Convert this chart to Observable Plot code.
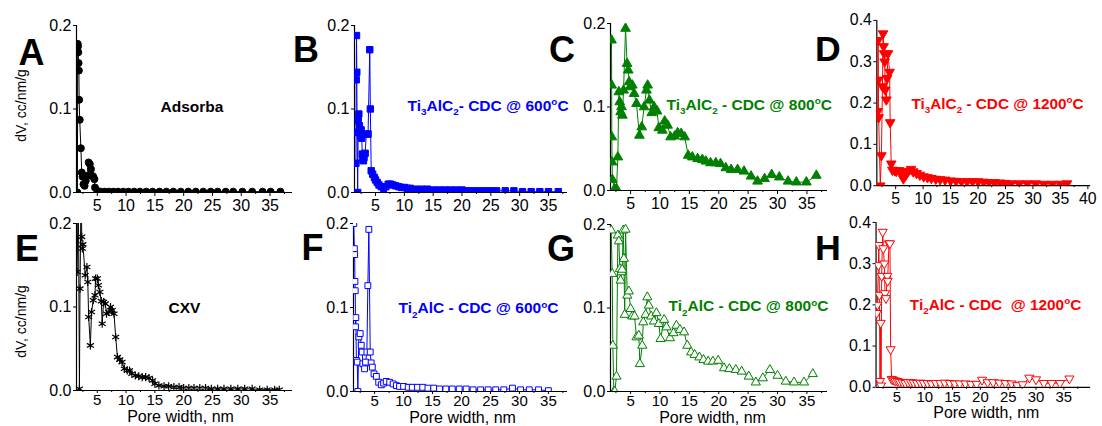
<!DOCTYPE html>
<html><head><meta charset="utf-8">
<script src="https://cdn.jsdelivr.net/npm/d3@7"></script>
<script src="https://cdn.jsdelivr.net/npm/@observablehq/plot@0.6"></script>
<style>
html,body{margin:0;padding:0;background:#fff;overflow:hidden}
#root{position:relative;width:1102px;height:426px;font-family:"Liberation Sans",Arial,sans-serif}
.panel{position:absolute}
.panel svg{overflow:visible;background:none}
</style></head><body><div id="root"></div>
<script>
// ---------- DATA (pore width, nm ; dV, cc/nm/g) ----------
const poreA = [1.55,1.6,1.65,1.7,1.75,1.8,1.85,1.95,2.15,2.3,
  2.45,2.6,2.8,3.0,3.3,3.5,3.7,3.9,4.1,4.3,
  4.5,4.6,5.0,5.6,6.3,7.0,7.8,8.6,9.5,10.4,
  11.4,12.4,13.5,14.6,15.8,17.0,18.2,19.5,20.8,22.1,
  23.4,24.7,25.9,27.3,28.6,30.2,31.9,33.7,35.1,36.8];
const dvA = [0.0,0.178,0.175,0.168,0.155,0.146,0.111,0.087,0.053,0.024,
  0.019,0.010,0.008,0.014,0.020,0.036,0.034,0.028,0.020,0.019,
  0.016,0.006,0.002,0.001,0.001,0.001,0.001,0.001,0.001,0.001,
  0.001,0.001,0.001,0.001,0.001,0.001,0.001,0.001,0.001,0.001,
  0.001,0.001,0.001,0.001,0.001,0.001,0.001,0.001,0.001,0.001];

const poreB = [1.6,1.65,1.7,1.75,1.8,1.9,2.0,2.1,2.2,2.3,
  2.4,2.5,2.6,2.7,2.8,2.9,3.0,3.2,3.4,3.7,
  4.0,4.1,4.25,4.5,4.8,5.0,5.3,5.6,6.0,6.4,
  6.8,7.2,7.6,8.0,8.5,9.0,9.5,10.0,10.5,11.0,
  12.0,13.0,14.0,15.0,16.0,17.0,18.0,19.0,20.0,21.0,
  22.0,23.0,24.0,25.0,26.0,27.5,29.0,30.5,32.0,33.5,
  35.0,36.7];
const dvB = [0.035,0.135,0.188,0.144,0.072,0.0,0.086,0.094,0.080,0.072,
  0.068,0.075,0.065,0.046,0.040,0.038,0.042,0.047,0.070,0.070,
  0.171,0.100,0.026,0.022,0.018,0.015,0.012,0.009,0.007,0.005,
  0.007,0.010,0.010,0.009,0.008,0.007,0.006,0.006,0.005,0.005,
  0.004,0.004,0.004,0.003,0.003,0.003,0.003,0.003,0.003,0.002,
  0.002,0.002,0.002,0.002,0.002,0.002,0.002,0.001,0.001,0.001,
  0.001,0.001];

const poreC = [1.75,1.78,1.8,1.85,1.9,2.27,2.6,2.83,3.0,3.15,
  3.3,3.45,3.6,3.8,4.14,4.4,4.6,4.75,4.9,5.3,
  5.6,6.0,6.5,6.9,7.3,7.7,7.9,8.2,8.6,9.0,
  9.5,9.8,10.4,10.8,11.3,11.8,12.5,13.0,13.6,14.2,
  14.8,15.5,16.4,17.2,17.8,18.6,19.5,20.3,21.2,22.1,
  23.2,24.3,25.5,26.6,27.8,29.0,30.3,31.8,33.2,34.9,
  36.6];
const dvC = [0.180,0.126,0.064,0.034,0.013,0.002,0.002,0.040,0.118,0.106,
  0.094,0.100,0.090,0.120,0.194,0.152,0.144,0.130,0.124,0.126,
  0.116,0.104,0.066,0.076,0.100,0.120,0.126,0.108,0.093,0.100,
  0.095,0.075,0.072,0.083,0.078,0.064,0.065,0.069,0.068,0.064,
  0.042,0.040,0.038,0.037,0.035,0.033,0.033,0.032,0.027,0.025,
  0.025,0.023,0.017,0.011,0.014,0.019,0.016,0.011,0.010,0.010,
  0.018];

const poreD = [1.75,1.8,1.85,1.9,2.2,2.4,2.6,2.7,2.8,2.9,
  3.0,3.1,3.3,3.45,3.6,3.9,4.0,4.2,4.4,4.8,
  5.1,5.6,6.0,6.4,6.8,7.3,7.8,8.2,8.8,9.4,
  10.1,10.8,11.5,12.3,13.1,14.0,15.0,16.0,17.0,18.0,
  19.0,20.0,21.0,22.0,23.0,24.0,25.0,26.0,27.5,29.0,
  30.5,32.0,33.5,35.0,36.2];
const dvD = [0.180,0.352,0.256,0.165,0.0,0.073,0.240,0.368,0.337,0.320,
  0.300,0.232,0.208,0.260,0.320,0.275,0.153,0.053,0.038,0.037,
  0.035,0.037,0.033,0.017,0.025,0.035,0.040,0.034,0.030,0.026,
  0.022,0.020,0.018,0.016,0.015,0.014,0.012,0.011,0.010,0.010,
  0.010,0.010,0.009,0.008,0.008,0.007,0.006,0.005,0.005,0.005,
  0.005,0.004,0.004,0.004,0.005];

const poreE = [1.5,1.7,1.9,2.0,2.2,2.3,2.4,2.5,2.9,3.2,
  3.35,3.5,3.8,4.0,4.3,4.6,4.7,5.0,5.2,5.45,
  5.7,5.85,6.1,6.4,6.6,7.0,7.3,7.6,7.9,8.2,
  8.5,8.9,9.3,9.7,10.2,10.6,11.0,11.6,12.2,12.8,
  13.4,14.0,14.6,15.0,15.7,16.6,17.4,18.3,19.2,20.0,
  20.9,21.8,22.8,23.8,24.8,25.9,27.0,28.2,29.4,30.6,
  31.9,33.2,34.5,35.8,36.6];
const dvE = [0.142,0.25,0.002,0.122,0.25,0.184,0.170,0.175,0.138,0.148,
  0.130,0.088,0.054,0.094,0.108,0.114,0.134,0.134,0.126,0.118,
  0.107,0.080,0.106,0.104,0.092,0.094,0.100,0.096,0.092,0.064,
  0.040,0.037,0.034,0.026,0.024,0.024,0.020,0.018,0.017,0.016,
  0.016,0.015,0.012,0.008,0.006,0.005,0.005,0.004,0.004,0.003,
  0.003,0.003,0.003,0.003,0.002,0.002,0.002,0.002,0.002,0.002,
  0.002,0.001,0.001,0.001,0.001];

const poreF = [1.4,1.5,1.55,1.6,1.65,1.7,1.75,1.85,2.0,2.1,
  2.27,2.5,2.68,2.85,2.97,3.26,3.43,3.66,3.83,4.0,
  4.24,4.4,4.6,4.9,5.3,5.7,6.15,6.55,7.0,7.6,
  8.2,8.75,9.3,10.0,10.8,11.5,12.4,13.3,14.2,15.2,
  16.2,17.3,18.4,19.6,20.8,22.0,23.3,24.6,25.9,27.3,
  28.8,30.2,31.7,33.3,35.0];
const dvF = [0.20,0.170,0.163,0.131,0.120,0.077,0.088,0.037,0.035,0.0,
  0.065,0.069,0.055,0.047,0.033,0.027,0.035,0.047,0.126,0.193,
  0.047,0.034,0.029,0.021,0.018,0.011,0.008,0.010,0.012,0.011,
  0.009,0.007,0.006,0.006,0.005,0.005,0.005,0.005,0.004,0.004,
  0.003,0.003,0.003,0.003,0.003,0.002,0.002,0.002,0.002,0.002,
  0.004,0.002,0.002,0.002,0.001];

const poreG = [1.7,1.87,1.98,2.15,2.3,2.6,2.83,3.0,3.17,3.29,
  3.46,3.57,3.74,3.86,4.0,4.14,4.43,4.7,5.0,5.28,
  5.67,6.0,6.4,6.58,6.98,7.15,7.55,7.84,8.1,8.5,
  8.96,9.4,9.8,10.1,10.7,11.1,11.7,12.3,12.8,13.4,
  14.1,14.65,15.3,15.9,16.7,17.4,18.2,19.0,19.9,20.9,
  21.8,22.9,23.9,25.1,26.3,27.5,28.7,30.0,31.4,32.8,
  34.5,36.0];
const dvG = [0.193,0.141,0.055,0.0,0.0,0.018,0.187,0.180,0.147,0.133,
  0.143,0.146,0.193,0.159,0.092,0.194,0.115,0.120,0.099,0.090,
  0.090,0.065,0.067,0.033,0.055,0.083,0.092,0.113,0.103,0.090,
  0.084,0.094,0.081,0.063,0.086,0.077,0.064,0.070,0.079,0.074,
  0.071,0.055,0.047,0.044,0.041,0.038,0.036,0.036,0.037,0.028,
  0.027,0.026,0.024,0.018,0.011,0.016,0.026,0.019,0.012,0.011,
  0.011,0.021];

const poreH = [1.37,1.49,1.67,1.75,1.85,1.96,2.08,2.14,2.26,2.44,
  2.56,2.74,2.86,3.04,3.27,3.33,3.57,3.75,3.87,4.05,
  4.35,4.7,5.1,5.5,6.0,6.5,7.0,7.5,8.0,8.6,
  9.2,9.8,10.5,11.2,12.0,12.8,13.6,14.5,15.4,16.3,
  17.3,18.3,19.3,20.3,21.3,22.3,23.4,24.5,25.6,26.6,
  27.6,28.8,30.0,31.4,32.8,34.3,36.0];
const dvH = [0.180,0.200,0.296,0.345,0.224,0.015,0.156,0.004,0.270,0.377,
  0.337,0.300,0.228,0.216,0.270,0.258,0.349,0.349,0.092,0.020,
  0.018,0.016,0.015,0.013,0.012,0.010,0.012,0.012,0.011,0.010,
  0.011,0.010,0.010,0.009,0.010,0.010,0.011,0.010,0.009,0.009,
  0.009,0.008,0.008,0.018,0.012,0.012,0.011,0.010,0.009,0.005,
  0.007,0.023,0.019,0.010,0.010,0.010,0.021];

const letters = ["A","B","C","D","E","F","G","H"];
const notes = ["Adsorba","Ti_3AlC_2- CDC @ 600^oC","Ti_3AlC_2 - CDC @ 800^oC","Ti_3AlC_2 - CDC @ 1200^oC",
               "CXV","Ti_2AlC - CDC @ 600^oC","Ti_2AlC - CDC @ 800^oC","Ti_2AlC - CDC  @ 1200^oC"];
const yLabel = "dV, cc/nm/g";
const xLabel = "Pore width, nm";
const yTicksLow = [0, 0.1, 0.2];
const yTicksHigh = [0, 0.1, 0.2, 0.3, 0.4];
const xTicks35 = [5,10,15,20,25,30,35];
const xTicks40 = [5,10,15,20,25,30,35,40];

// ---------- rendering ----------
const sqrt3 = Math.sqrt(3);
const triangleDown = {draw(ctx, size) {
  const y = -Math.sqrt(size / (sqrt3 * 3));
  ctx.moveTo(0, -y * 2); ctx.lineTo(-sqrt3 * y, y); ctx.lineTo(sqrt3 * y, y); ctx.closePath();
}};
const BLUE = "#0000ff", GREEN = "#008000", RED = "#ff0000", BLACK = "#000000";

const panels = [
  {pore: poreA, dv: dvA, frame: [76,292,25,192], xd: [1.39,38.9], yt: yTicksLow, xt: xTicks35, color: BLACK, symbol: "circle", r: 3.5, filled: true,
   L: [-58,28], N: [84,82], noteColor: BLACK, ylab: [-55,-3.5], top: true},
  {pore: poreB, dv: dvB, frame: [354,567,25,192], xd: [1.35,38.3], yt: yTicksLow, xt: xTicks35, color: BLUE, symbol: "square", r: 3.6, filled: true,
   L: [-61.5,25], N: [53,80.5], noteColor: BLUE, top: true},
  {pore: poreC, dv: dvC, frame: [610,827,23,190], xd: [1.58,38.5], yt: yTicksLow, xt: xTicks35, color: GREEN, symbol: "triangle", r: 3.6, filled: true,
   L: [-61.5,27], N: [56,81.5], noteColor: GREEN, top: true},
  {pore: poreD, dv: dvD, frame: [877,1093,20,187], xd: [1.57,40.5], yt: yTicksHigh, xt: xTicks40, color: RED, symbol: triangleDown, r: 3.6, filled: true,
   L: [-62.5,30], N: [35,84.5], noteColor: RED, top: true},
  {pore: poreE, dv: dvE, frame: [76,292,223,390], xd: [1.39,38.9], yt: yTicksLow, xt: xTicks35, color: BLACK, symbol: "asterisk", r: 3.8, filled: false, star: true,
   L: [-61.5,26], N: [92,85], noteColor: BLACK, ylab: [-55,14.5], xlab: -4, top: false},
  {pore: poreF, dv: dvF, frame: [353,567,223,391], xd: [1.35,38.3], yt: yTicksLow, xt: xTicks35, color: BLUE, symbol: "square", r: 3.3, filled: false,
   L: [-52,25], N: [45,85], noteColor: BLUE, xlab: 2, top: false},
  {pore: poreG, dv: dvG, frame: [610,827,224,391], xd: [1.58,38.5], yt: yTicksLow, xt: xTicks35, color: GREEN, symbol: "triangle", r: 3.4, filled: false,
   L: [-63.5,25], N: [58,82], noteColor: GREEN, xlab: -6.5, top: false},
  {pore: poreH, dv: dvH, frame: [876,1092,222,388], xd: [1.25,39.8], yt: yTicksHigh, xt: xTicks35, color: RED, symbol: triangleDown, r: 3.4, filled: false,
   L: [-61.5,26], N: [34,83], noteColor: RED, xlab: 3, top: false}
];

function richify(svg) {
  const ns = "http://www.w3.org/2000/svg";
  svg.querySelectorAll("text").forEach(t => {
    const s = t.textContent;
    if (!/[_^]/.test(s)) return;
    const fs = parseFloat(t.getAttribute("font-size") || "15");
    while (t.firstChild) t.removeChild(t.firstChild);
    t.style.whiteSpace = "pre";
    let cur = 0;
    for (const part of s.split(/([_^].)/)) {
      if (!part) continue;
      const ts = document.createElementNS(ns, "tspan");
      let target = 0;
      if (part[0] === "_") { ts.textContent = part[1]; ts.setAttribute("font-size", fs * 0.66); target = fs * 0.3; }
      else if (part[0] === "^") { ts.textContent = part[1]; ts.setAttribute("font-size", fs * 0.66); target = -fs * 0.38; }
      else { ts.textContent = part; }
      if (target - cur !== 0) ts.setAttribute("dy", target - cur);
      cur = target;
      t.appendChild(ts);
    }
  });
}

const root = document.getElementById("root");
panels.forEach((p, i) => {
  if (p.pore.length !== p.dv.length) throw new Error("length mismatch panel " + letters[i] + ": " + p.pore.length + " vs " + p.dv.length);
  const [fl, fr, ft, fb] = p.frame;
  const ml = 66, mr = 12, mt = 10, mb = 36;
  const data = p.pore.map((x, k) => ({x, y: p.dv[k]}));
  const yMax = p.yt[p.yt.length - 1];
  const minor = d3.range(2.5, p.xd[1], 5).filter(v => v > p.xd[0]);
  const marks = [
    Plot.ruleX([p.xd[0]], {stroke: BLACK, strokeWidth: 1.2}),
    Plot.ruleY([0], {stroke: BLACK, strokeWidth: 1.2}),
    Plot.axisY({ticks: p.yt, tickFormat: d3.format(".1f"), tickSize: 3, tickPadding: 2, label: null}),
    Plot.axisX({ticks: p.xt, tickFormat: d => String(d), tickSize: p.top ? 4 : 3, tickPadding: p.top ? 3 : 1,
      fontSize: p.top ? 16 : 15, label: null}),
    Plot.axisX({ticks: minor, tickFormat: () => "", tickSize: 2, label: null}),
    Plot.line(data, {x: "x", y: "y", stroke: p.color, strokeWidth: 1, clip: true}),
    Plot.dot(data, {x: "x", y: "y", symbol: p.symbol, r: p.r,
      fill: p.star ? "none" : (p.filled ? p.color : "white"),
      stroke: p.color, strokeWidth: p.star ? 1.2 : 1, clip: true}),
    Plot.text([letters[i]], {frameAnchor: "top-left", text: d => d, dx: p.L[0], dy: p.L[1],
      textAnchor: "start", lineAnchor: "middle", fontSize: 36, fontWeight: "bold", fill: BLACK}),
    Plot.text([notes[i]], {frameAnchor: "top-left", text: d => d, dx: p.N[0], dy: p.N[1],
      textAnchor: "start", lineAnchor: "middle", fontSize: 15.5, fontWeight: "bold", fill: p.noteColor})
  ];
  if (p.ylab) marks.push(Plot.text([yLabel], {frameAnchor: "left", text: d => d, rotate: -90, dx: p.ylab[0], dy: p.ylab[1],
      textAnchor: "middle", lineAnchor: "middle", fontSize: 14, fill: BLACK}));
  if (p.xlab !== undefined) marks.push(Plot.text([xLabel], {frameAnchor: "bottom", text: d => d, dx: p.xlab, dy: 26,
      textAnchor: "middle", lineAnchor: "middle", fontSize: 16, fill: BLACK}));
  const svg = Plot.plot({
    width: (fr - fl) + ml + mr, height: (fb - ft) + mt + mb,
    marginLeft: ml, marginRight: mr, marginTop: mt, marginBottom: mb,
    x: {domain: p.xd, label: null},
    y: {domain: [0, yMax], label: null},
    style: {fontFamily: "'Liberation Sans', Arial, sans-serif", fontSize: "16px", background: "transparent", overflow: "visible", color: "black"},
    marks
  });
  richify(svg);
  const div = document.createElement("div");
  div.className = "panel";
  div.style.left = (fl - ml) + "px";
  div.style.top = (ft - mt) + "px";
  div.appendChild(svg);
  root.appendChild(div);
});
</script></body></html>
